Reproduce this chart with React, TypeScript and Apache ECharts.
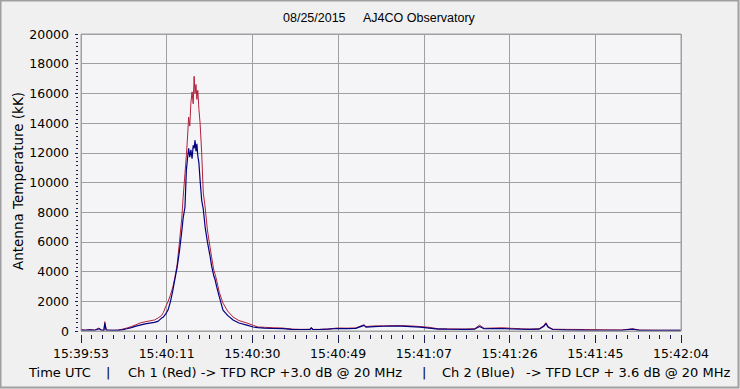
import React, { useEffect, useRef } from "react";
import * as echarts from "echarts";

// Seconds after 15:39:53 UTC
const timeSec = [
  0, 1, 2, 3, 3.9, 4.5, 5.0, 5.2, 5.5, 6, 7, 8, 9, 10, 11, 12, 12.9, 14, 15, 16, 16.8, 17.6,
  18.0, 18.5, 19.0, 19.5, 20.0, 20.5, 21.0, 21.5, 22.0, 22.3, 22.7, 23.0, 23.25, 23.5, 23.75,
  24.0, 24.25, 24.5, 24.7, 24.9, 25.1, 25.3, 25.5, 25.75, 26.0, 26.35, 26.7, 27.1, 27.6, 28.2,
  28.5, 29.0, 29.3, 29.6, 30.2, 31.0, 32.0, 33.2, 34.5, 36.2, 37.6, 38.6,
  40, 42, 44, 46, 48, 50, 50.3, 50.6, 52, 54, 56, 58, 60, 61.8, 62.2, 64, 66, 68, 70, 72, 74,
  76, 78, 80, 84, 86, 87, 88, 90, 92, 94, 96, 98, 100, 101, 101.5, 102, 103, 106, 110, 114,
  118, 120.5, 122, 126, 131,
];
// Ch 1 (Red) antenna temperature, kK
const redK = [
  80, 70, 90, 60, 200, 60, 50, 630, 80, 60, 50, 60, 120, 200, 300, 420, 540, 620, 680, 740, 870, 1050,
  1250, 1650, 1970, 2400, 2900, 3600, 4500, 6000, 7600, 9000, 10600, 11800, 13000, 14400, 13800,
  15400, 16100, 15300, 17150, 16000, 16600, 15600, 16200, 14900, 14000, 12000, 9300, 8350, 6800, 5600,
  5000, 4100, 3800, 3430, 2600, 1880, 1350, 940, 700, 540, 380, 270,
  250, 220, 200, 130, 110, 120, 250, 110, 110, 140, 200, 190, 210, 420, 300, 340, 350, 360, 360, 340, 300,
  250, 150, 140, 130, 160, 400, 180, 200, 220, 180, 150, 130, 150, 350, 560, 300, 120, 110, 100, 80,
  70, 150, 60, 50, 50,
];
// Ch 2 (Blue) antenna temperature, kK
const blueK = [
  60, 50, 70, 50, 150, 50, 40, 520, 60, 50, 40, 40, 80, 150, 230, 330, 400, 480, 530, 580, 650, 870,
  950, 1150, 1410, 1950, 2650, 3500, 4300, 5400, 6700, 7600, 8350, 10800, 11600, 12300, 11700,
  12200, 11600, 12500, 12300, 12850, 12100, 12600, 11800, 11300, 10160, 8800, 8200, 7000, 6000, 5000,
  4400, 3700, 3430, 3000, 2300, 1410, 1050, 740, 540, 400, 270, 230,
  200, 170, 160, 110, 100, 100, 200, 100, 100, 120, 170, 160, 180, 380, 260, 300, 320, 330, 330, 300, 260,
  200, 130, 120, 110, 130, 300, 150, 160, 170, 140, 120, 110, 120, 300, 500, 250, 100, 80, 60, 50,
  50, 120, 40, 40, 40,
];
const xTickLabels = [
  "15:39:53", "15:40:11", "15:40:30", "15:40:49", "15:41:07", "15:41:26", "15:41:45", "15:42:04",
];
const spanSec = 131;

const FONT = "DejaVu Sans";
const TITLE_FONT = "Liberation Sans";
const TICK_COLOR = "#1c1c50";

const GRID = { left: 81, top: 34, right: 59, bottom: 58 };
const W = 740;
const H = 389;

export default function App() {
  const ref = useRef<HTMLDivElement>(null);
  useEffect(() => {
    if (!ref.current) return;
    const chart = echarts.init(ref.current, null, { renderer: "svg" });
    const step = spanSec / (xTickLabels.length - 1);
    const bottomText = (x: number, text: string) => ({
      type: "text",
      x,
      y: 372,
      style: { text, fontFamily: FONT, fontSize: 13, fill: "#000", textVerticalAlign: "middle" },
    });
    chart.setOption({
      animation: false,
      backgroundColor: "#f0f0f0",
      grid: { ...GRID },
      xAxis: {
        type: "value",
        min: 0,
        max: spanSec,
        interval: step,
        offset: 4,
        axisLine: { show: true, onZero: false, lineStyle: { color: "rgba(0,0,0,0)" } },
        axisTick: { show: true, length: 8, lineStyle: { color: TICK_COLOR, width: 1 } },
        minorTick: { show: true, splitNumber: 8, length: 4, lineStyle: { color: TICK_COLOR, width: 1 } },
        splitLine: { show: true, lineStyle: { color: "#a0a0a0", width: 1 } },
        axisLabel: {
          margin: 12,
          color: "#000",
          fontFamily: FONT,
          fontSize: 12.5,
          formatter: (v: number) => {
            const i = Math.round(v / step);
            return Math.abs(v - i * step) < 0.01 ? xTickLabels[i] ?? "" : "";
          },
        },
      },
      yAxis: {
        type: "value",
        min: 0,
        max: 20000,
        interval: 2000,
        offset: 3,
        axisLine: { show: true, onZero: false, lineStyle: { color: "rgba(0,0,0,0)" } },
        axisTick: { show: true, length: 3, lineStyle: { color: TICK_COLOR, width: 1 } },
        minorTick: { show: true, splitNumber: 7, length: 2, lineStyle: { color: TICK_COLOR, width: 1 } },
        splitLine: { show: true, lineStyle: { color: "#a0a0a0", width: 1 } },
        axisLabel: {
          margin: 9,
          color: "#000",
          fontFamily: FONT,
          fontSize: 12.5,
          formatter: (v: number) => String(v),
        },
      },
      series: [
        {
          name: "Ch 1 (Red)",
          type: "line",
          showSymbol: false,
          silent: true,
          data: timeSec.map((t, i) => [t, redK[i]]),
          lineStyle: { color: "#b2203a", width: 1 },
          itemStyle: { color: "#b2203a" },
        },
        {
          name: "Ch 2 (Blue)",
          type: "line",
          showSymbol: false,
          silent: true,
          data: timeSec.map((t, i) => [t, blueK[i]]),
          lineStyle: { color: "#000080", width: 1.2 },
          itemStyle: { color: "#000080" },
        },
      ],
      graphic: [
        {
          type: "rect",
          z: -10,
          silent: true,
          shape: {
            x: GRID.left,
            y: GRID.top,
            width: W - GRID.left - GRID.right,
            height: H - GRID.top - GRID.bottom,
          },
          style: { fill: "#f5f5f8", stroke: "none" },
        },
        {
          type: "rect",
          z: 10,
          silent: true,
          shape: {
            x: GRID.left,
            y: GRID.top,
            width: W - GRID.left - GRID.right,
            height: H - GRID.top - GRID.bottom,
          },
          style: { fill: "none", stroke: "#a0a0a0", lineWidth: 1 },
        },
        {
          type: "rect",
          shape: { x: 0.5, y: 0.5, width: 738, height: 387 },
          style: { fill: "none", stroke: "#a0a0a0", lineWidth: 2 },
          silent: true,
        },
        {
          type: "text",
          x: 283,
          y: 18,
          style: { text: "08/25/2015", fontFamily: TITLE_FONT, fontSize: 12.5, fill: "#000", textVerticalAlign: "middle" },
        },
        {
          type: "text",
          x: 363,
          y: 18,
          style: { text: "AJ4CO Observatory", fontFamily: TITLE_FONT, fontSize: 12.5, fill: "#000", textVerticalAlign: "middle" },
        },
        {
          type: "text",
          x: 18,
          y: 181,
          rotation: Math.PI / 2,
          style: {
            text: "Antenna Temperature (kK)",
            fontFamily: FONT,
            fontSize: 13.5,
            fill: "#000",
            textAlign: "center",
            textVerticalAlign: "middle",
          },
        },
        bottomText(29, "Time UTC"),
        bottomText(106, "|"),
        bottomText(128, "Ch 1 (Red) -> TFD RCP +3.0 dB @ 20 MHz"),
        bottomText(422, "|"),
        bottomText(442, "Ch 2 (Blue)"),
        bottomText(526, "-> TFD LCP + 3.6 dB @ 20 MHz"),
      ],
    });
    return () => chart.dispose();
  }, []);
  return (
    <div
      ref={ref}
      style={{ position: "fixed", left: 0, top: 0, width: W, height: H }}
    />
  );
}
